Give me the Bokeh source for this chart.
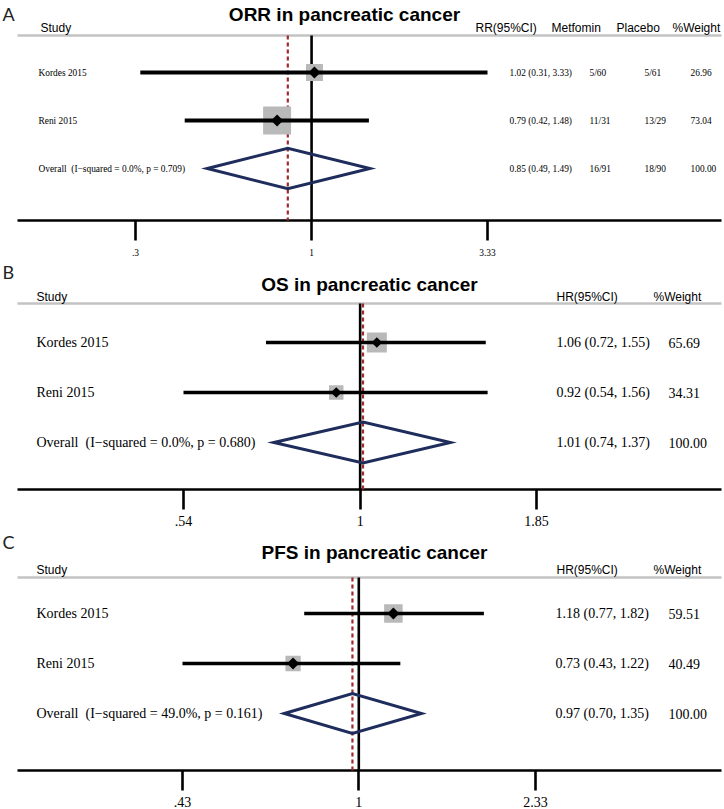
import numpy as np
from bokeh.plotting import figure
from bokeh.models import Range1d, FixedTicker, CustomJSTickFormatter
from bokeh.layouts import column
from bokeh.core.properties import value
from bokeh.embed import file_html
from bokeh.resources import INLINE

# ---------------- data ----------------
studies = ["Kordes 2015", "Reni 2015"]

orr_title = "ORR in pancreatic cancer"
orr_est = [1.02, 0.79]
orr_lo = [0.31, 0.42]
orr_hi = [3.33, 1.48]
orr_weight = [26.96, 73.04]
orr_overall = [0.85, 0.49, 1.49]
orr_overall_label = "Overall\u00a0 (I\u2212squared = 0.0%, p = 0.709)"
orr_metformin = ["5/60", "11/31", "16/91"]
orr_placebo = ["5/61", "13/29", "18/90"]
orr_ticks = [0.3, 1, 3.33]

os_title = "OS in pancreatic cancer"
os_est = [1.06, 0.92]
os_lo = [0.72, 0.54]
os_hi = [1.55, 1.56]
os_weight = [65.69, 34.31]
os_overall = [1.01, 0.74, 1.37]
os_overall_label = "Overall\u00a0 (I\u2212squared = 0.0%, p = 0.680)"
os_ticks = [0.54, 1, 1.85]

pfs_title = "PFS in pancreatic cancer"
pfs_est = [1.18, 0.73]
pfs_lo = [0.77, 0.43]
pfs_hi = [1.82, 1.22]
pfs_weight = [59.51, 40.49]
pfs_overall = [0.97, 0.70, 1.35]
pfs_overall_label = "Overall\u00a0 (I\u2212squared = 49.0%, p = 0.161)"
pfs_ticks = [0.43, 1, 2.33]

# ---------------- layout / style ----------------
W = 724
SERIF = "Liberation Serif"
SANS = "Liberation Sans"
GRAY_SQ = "#b9b9b9"
NAVY = "#1f2d5c"
RED = "#a1282c"
GRAYLINE = "#c3c3c3"
RULE_L, RULE_R = 17, 721


def fmt_tick():
    return CustomJSTickFormatter(code="""
        var s = String(+(+tick).toPrecision(6));
        return s.startsWith('0.') ? s.slice(1) : s;
    """)


def panel(letter, title, est, lo, hi, weight, overall, ov_label, ticks, cols, L):
    # log mapping from reference pixels
    k = (L["tick_px"][1] - L["tick_px"][0]) / (np.log(ticks[-1]) - np.log(ticks[0]))
    c = L["tick_px"][0] - k * np.log(ticks[0])

    def px2x(px):
        return float(np.exp((px - c) / k))

    def py2r(py):
        return (py - L["row0"]) / L["step"]

    frame_bottom = L["axis"] + 2
    p = figure(width=W, height=L["bottom"] - L["top"], x_axis_type="log",
               x_range=Range1d(px2x(0), px2x(W)),
               y_range=Range1d(py2r(frame_bottom), py2r(L["top"])),
               y_axis_location=None, toolbar_location=None,
               output_backend="svg",
               min_border_left=0, min_border_right=0, min_border_top=0,
               min_border_bottom=L["bottom"] - frame_bottom)
    p.xgrid.visible = False
    p.ygrid.visible = False
    p.outline_line_color = None
    p.background_fill_color = "white"
    p.border_fill_color = "white"

    ax = p.xaxis[0]
    ax.ticker = FixedTicker(ticks=ticks)
    ax.formatter = fmt_tick()
    ax.axis_line_color = None
    ax.major_tick_line_width = 2.6
    ax.major_tick_line_color = "black"
    ax.major_tick_out = 18
    ax.major_tick_in = 2
    ax.minor_tick_line_color = None
    ax.major_label_standoff = L["standoff"]
    ax.major_label_text_font = SERIF
    ax.major_label_text_font_size = f"{L['fs_row']:.1f}px"
    ax.major_label_text_color = "black"

    rows = [1, 2]
    ov_row = 3
    gray_r = py2r(L["gray"])
    axis_r = py2r(L["axis"])

    # header rule and axis line
    p.segment(x0=[px2x(RULE_L)], y0=[gray_r], x1=[px2x(RULE_R)], y1=[gray_r],
              line_color=GRAYLINE, line_width=2.4)
    p.segment(x0=[px2x(RULE_L)], y0=[axis_r], x1=[px2x(RULE_R)], y1=[axis_r],
              line_color="black", line_width=2.6)
    # null line at 1
    p.segment(x0=[1], y0=[gray_r], x1=[1], y1=[axis_r], line_color="black",
              line_width=2.6)
    # overall estimate dashed line
    p.segment(x0=[overall[0]], y0=[gray_r], x1=[overall[0]], y1=[axis_r],
              line_color=RED, line_width=2.2, line_dash="4 3")

    # weight squares
    sizes = [L["sq"] * np.sqrt(w) for w in weight]
    p.scatter(x=est, y=rows, size=sizes, marker="square", fill_color=GRAY_SQ,
              line_color=None)
    # CIs
    p.segment(x0=lo, y0=rows, x1=hi, y1=rows, line_color="black",
              line_width=L["ci_w"])
    # point estimates
    p.scatter(x=est, y=rows, size=L["pt"], marker="square", angle=np.pi / 4,
              fill_color="black", line_color=None)
    # overall diamond
    h = L["dh"]
    p.patch(x=[overall[1], overall[0], overall[2], overall[0]],
            y=[ov_row, ov_row - h, ov_row, ov_row + h],
            fill_color=None, line_color=NAVY, line_width=3, line_join="miter")

    # panel letter
    p.text(x=[px2x(L["letter_x"])], y=[py2r(L["letter_y"])], text=[letter],
           text_font=value("Lato"), text_font_size="18px",
           text_baseline="middle", text_align="left", text_color="#222222")
    # title
    p.text(x=[px2x(L["title_x"])], y=[py2r(L["title_y"])], text=[title],
           text_font=value(SANS), text_font_style="bold",
           text_font_size="19px", text_align="center",
           text_baseline="middle", text_color="black")
    # headers
    hdr_r = py2r(L["hdr"])
    for name, hx in L["headers"]:
        p.text(x=[px2x(hx)], y=[hdr_r], text=[name], text_font=value(SANS),
               text_font_size="12px", text_baseline="middle",
               text_align="left", text_color="black")
    # row texts
    labels = list(studies) + [ov_label]
    fs = f"{L['fs_row']:.1f}px"
    p.text(x=[px2x(L["name_x"])] * 3, y=rows + [ov_row], text=labels,
           text_font=value(SERIF), text_font_size=fs, text_baseline="middle",
           text_align="left", text_color="black")
    for col_text, cx in cols:
        p.text(x=[px2x(cx)] * 3, y=rows + [ov_row], text=col_text,
               text_font=value(SERIF), text_font_size=fs, text_baseline="middle",
               text_align="left", text_color="black")
    return p


def ci_text(est, lo, hi, overall):
    out = [f"{e:.2f} ({a:.2f}, {b:.2f})" for e, a, b in zip(est, lo, hi)]
    out.append(f"{overall[0]:.2f} ({overall[1]:.2f}, {overall[2]:.2f})")
    return out


def w_text(weight):
    return [f"{w:.2f}" for w in weight] + [f"{sum(weight):.2f}"]


LA = dict(top=0, bottom=260, axis=220, hdr=27, gray=35, title_x=344, title_y=14,
          letter_x=2, letter_y=13, row0=24, step=48, tick_px=(135, 487),
          fs_row=9.4, standoff=8, sq=3.27, pt=8.5, ci_w=4.0, dh=0.42, name_x=38,
          headers=[("Study", 40), ("RR(95%CI)", 475), ("Metfomin", 551),
                   ("Placebo", 616), ("%Weight", 672)])
LB = dict(top=260, bottom=530, axis=489, hdr=296, gray=303, title_x=369, title_y=284,
          letter_x=2, letter_y=271, row0=292, step=50, tick_px=(183, 536),
          fs_row=14, standoff=6, sq=2.47, pt=7.5, ci_w=3.5, dh=0.41, name_x=36,
          headers=[("Study", 36), ("HR(95%CI)", 556), ("%Weight", 653)])
LC = dict(top=530, bottom=809, axis=770, hdr=569, gray=577, title_x=374, title_y=552,
          letter_x=2, letter_y=541, row0=563, step=50, tick_px=(182, 535),
          fs_row=14, standoff=6, sq=2.4, pt=8.5, ci_w=3.5, dh=0.40, name_x=36,
          headers=[("Study", 36), ("HR(95%CI)", 556), ("%Weight", 653)])

pA = panel("A", orr_title, orr_est, orr_lo, orr_hi, orr_weight, orr_overall,
           orr_overall_label, orr_ticks,
           [(ci_text(orr_est, orr_lo, orr_hi, orr_overall), 509),
            (orr_metformin, 589), (orr_placebo, 644), (w_text(orr_weight), 690)], LA)
pB = panel("B", os_title, os_est, os_lo, os_hi, os_weight, os_overall,
           os_overall_label, os_ticks,
           [(ci_text(os_est, os_lo, os_hi, os_overall), 556),
            (w_text(os_weight), 668)], LB)
pC = panel("C", pfs_title, pfs_est, pfs_lo, pfs_hi, pfs_weight, pfs_overall,
           pfs_overall_label, pfs_ticks,
           [(ci_text(pfs_est, pfs_lo, pfs_hi, pfs_overall), 555),
            (w_text(pfs_weight), 668)], LC)

layout = column(pA, pB, pC, spacing=0)
open("out.html", "w").write(file_html(layout, INLINE))
